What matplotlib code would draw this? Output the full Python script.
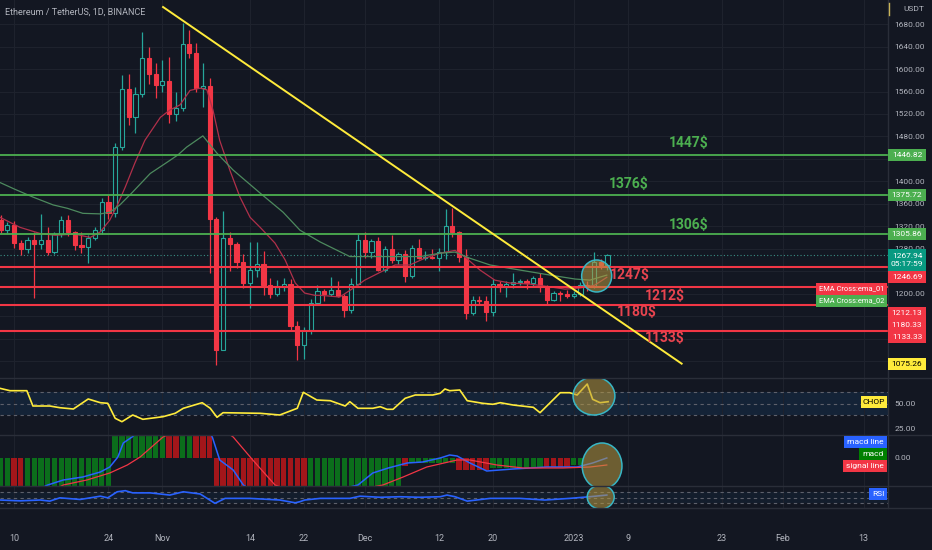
import numpy as np
import matplotlib
matplotlib.use("Agg")
import matplotlib.pyplot as plt
from matplotlib.patches import Ellipse, Rectangle
from matplotlib.lines import Line2D

plt.rcParams['font.family'] = ['Roboto', 'DejaVu Sans']

W, H = 932, 550
BG = '#131722'
GRID = '#1e222d'
TXT = '#b2b5be'
UP = '#26a69a'
DN = '#f23645'

# daily candles, day 0 = 10 Oct 2022 (last one = 6 Jan 2023)
days = list(range(-2, 89))
opens = [1332, 1314, 1322, 1291, 1280, 1296, 1289, 1296, 1274, 1306, 1331, 1310, 1286, 1283, 1299, 1314,
         1364, 1344, 1461, 1565, 1515, 1556, 1620, 1592, 1572, 1578, 1520, 1530, 1645, 1628, 1567,
         1569, 1333, 1100, 1299, 1288, 1256, 1219, 1242, 1252, 1216, 1200, 1212, 1218, 1142, 1108,
         1136, 1184, 1204, 1199, 1206, 1195, 1170, 1217, 1296, 1275, 1293, 1242, 1279, 1259, 1270,
         1232, 1281, 1264, 1266, 1263, 1275, 1320, 1309, 1266, 1166, 1188, 1186, 1167, 1217, 1212,
         1218, 1220, 1222, 1219, 1227, 1212, 1189, 1201, 1199, 1196, 1200, 1215, 1214, 1257, 1251]
highs = [1340, 1327, 1330, 1295, 1300, 1310, 1342, 1318, 1310, 1338, 1340, 1312, 1310, 1304, 1318, 1370,
         1375, 1468, 1590, 1592, 1568, 1666, 1639, 1610, 1616, 1621, 1560, 1682, 1670, 1646, 1610,
         1584, 1336, 1348, 1310, 1292, 1270, 1292, 1292, 1276, 1228, 1225, 1228, 1226, 1152, 1140,
         1190, 1215, 1208, 1230, 1222, 1200, 1228, 1306, 1310, 1298, 1300, 1285, 1305, 1275, 1278,
         1286, 1298, 1276, 1280, 1282, 1350, 1352, 1312, 1280, 1195, 1196, 1195, 1226, 1222, 1222,
         1237, 1226, 1226, 1232, 1236, 1216, 1205, 1204, 1206, 1204, 1220, 1222, 1274, 1262, 1270]
lows = [1308, 1308, 1282, 1269, 1273, 1192, 1280, 1268, 1270, 1300, 1303, 1278, 1272, 1255, 1295, 1306,
        1333, 1336, 1455, 1500, 1486, 1550, 1573, 1548, 1560, 1504, 1508, 1526, 1620, 1560, 1532,
        1236, 1073, 1100, 1240, 1245, 1210, 1174, 1230, 1198, 1192, 1195, 1205, 1135, 1081, 1083,
        1128, 1180, 1187, 1195, 1194, 1158, 1165, 1216, 1264, 1264, 1240, 1239, 1254, 1252, 1220,
        1228, 1262, 1260, 1261, 1240, 1262, 1300, 1257, 1155, 1162, 1180, 1151, 1160, 1203, 1194,
        1210, 1216, 1208, 1214, 1203, 1182, 1186, 1187, 1192, 1192, 1195, 1205, 1210, 1244, 1242]
closes = [1314, 1322, 1291, 1280, 1296, 1289, 1296, 1274, 1306, 1331, 1310, 1286, 1283, 1299, 1314, 1364,
          1344, 1461, 1565, 1515, 1556, 1620, 1592, 1572, 1578, 1520, 1530, 1645, 1628, 1567, 1569,
          1333, 1100, 1299, 1288, 1256, 1219, 1242, 1252, 1216, 1200, 1212, 1218, 1142, 1108, 1136,
          1184, 1204, 1199, 1206, 1195, 1170, 1217, 1296, 1275, 1293, 1242, 1279, 1259, 1270, 1232,
          1281, 1264, 1266, 1263, 1275, 1320, 1309, 1266, 1166, 1188, 1186, 1167, 1217, 1212, 1218,
          1220, 1222, 1219, 1227, 1212, 1189, 1201, 1199, 1196, 1200, 1215, 1214, 1257, 1251, 1268]

ema_fast_days = [-2.1, 0.9, 3.9, 6.1, 9.0, 11.3, 12.8, 14.2, 15.3, 16.5, 17.9, 19.4, 21.7, 23.1, 24.6,
                 26.1, 27.6, 28.6, 29.5, 30.5, 32.0, 33.5, 35.0, 36.5, 38.7, 40.2, 41.7, 43.1, 44.6,
                 45.4, 48.3, 50.6, 52.0, 54.3, 56.5, 58.7, 60.9, 63.2, 65.4, 66.9, 69.1, 71.3, 73.5,
                 76.5, 79.5, 81.7, 83.9, 86.1, 87.9]
ema_fast = [1336, 1318, 1307, 1304, 1306, 1300, 1310, 1331, 1357, 1390, 1432, 1473, 1514, 1527, 1536,
            1562, 1566, 1563, 1527, 1473, 1420, 1372, 1336, 1318, 1290, 1260, 1219, 1201, 1197,
            1197, 1194, 1212, 1224, 1238, 1251, 1251, 1263, 1272, 1277, 1265, 1242, 1224, 1219,
            1217, 1212, 1208, 1210, 1215, 1229]
ema_slow_days = [-2.1, 0.1, 2.8, 5.8, 7.9, 10.2, 12.8, 14.2, 15.7, 17.6, 20.2, 22.7, 24.3, 25.6, 28.0,
                 30.1, 32.5, 36.5, 39.9, 42.4, 45.4, 49.8, 54.3, 60.2, 63.2, 65.4, 67.6, 70.6, 75.0,
                 79.5, 83.2, 85.4, 87.9]
ema_slow = [1398, 1386, 1372, 1358, 1352, 1343, 1342, 1345, 1358, 1381, 1414, 1434, 1447, 1461, 1481,
            1450, 1420, 1379, 1345, 1313, 1292, 1266, 1266, 1266, 1272, 1274, 1263, 1251, 1242,
            1233, 1226, 1224, 1233]

res_levels = [1446.82, 1375.72, 1305.86]
res_names = ['1447$', '1376$', '1306$']
sup_levels = [1246.69, 1212.13, 1180.33, 1133.33]
sup_names = ['1247$', '1212$', '1180$', '1133$']
last_price = 1267.94
countdown = '05:17:59'
trend_days = [22.1, 99.0]
trend_prices = [1710.5, 1075.26]

# price scale labels that are not hidden behind a tag
price_ticks = [1680, 1640, 1600, 1560, 1520, 1480, 1400, 1360, 1320, 1280, 1200]
grid_prices = [1080, 1120, 1160, 1200, 1240, 1280, 1320, 1360, 1400, 1440, 1480, 1520, 1560, 1600, 1640, 1680]

chop_days = [-2.1, -0.6, 1.9, 2.8, 5.3, 6.8, 8.8, 11.0, 12.8, 13.9, 15.0, 16.0, 17.6, 19.1, 22.1,
             23.9, 25.1, 27.9, 29.1, 30.1, 31.0, 36.5, 39.4, 42.0, 42.9, 44.9, 46.9, 49.1, 49.8,
             51.0, 53.2, 54.3, 55.3, 56.2, 58.0, 59.5, 62.1, 63.2, 63.9, 64.6, 66.1, 67.2, 69.5,
             71.0, 72.1, 74.0, 77.0, 78.0, 81.0, 82.4, 83.5, 85.0, 85.8, 86.9, 88.1]
chop_vals = [65.2, 62.8, 62.8, 47.5, 47.5, 45.8, 44.5, 54.5, 50.8, 50.2, 35.2, 31.8, 38.5, 34.2, 36.8,
             40.2, 45.2, 50.8, 45.2, 36.2, 40.8, 40.2, 38.5, 45.2, 61.2, 53.5, 52.8, 47.5, 51.8,
             45.2, 45.2, 46.8, 44.2, 44.2, 55.2, 58.5, 58.5, 60.2, 64.5, 62.8, 63.5, 52.8, 50.2,
             49.2, 50.8, 48.5, 46.2, 40.8, 60.8, 60.8, 58.5, 69.5, 54.2, 50.8, 51.8]

# macd histogram, days -2 .. 84
macd_hist = [-40, -40, -40, -40, -40, -40, -40, -40, -40, -40, -40, -40, -40, -40, -40, -40, -40,
             30, 30, 30, 30, 30, 30, 30, 30, 30, 30, 30, 30, 30, 30, 30,
             -40, -40, -40, -40, -40, -40, -40, -40, -40, -40, -40, -40, -40, -40,
             -40, -40, -40, -40, -40, -40, -40, -40, -40, -40, -40, -40, -40, -40,
             -8, -5, -5, -5, -5, -5, -5, -5, -12, -12, -12, -12, -12,
             -10, -10, -10, -10, -10, -10, -10, -10, -9, -9, -9, -9, -7, -7]
macd_cols = "GGRRGGGGGGGGGGGGG GGGGGGGGRRGGRRR RRRRRRRRRRRRRR GGGGGGGGGGGGGG RGGGGGGGRRRRR GGGGGGGGRRRRGG"
macd_days = [-2, 4, 5.0, 7.3, 10.2, 12.8, 14.2, 15.4, 16.2, 17.5, 20, 25, 28, 29.4, 30.5, 32.5, 34.0,
             38, 44, 48, 51.0, 53.2, 55.5, 58.3, 60.6, 63.2, 64.6, 65.7, 67.6, 70.1, 74.0, 79.0,
             83.5, 85.8, 87.9]
macd_vals = [-40, -30, -27, -22, -19, -14, -9, 1, 15, 21, 35, 45, 35, 21, -2, -12, -27,
             -45, -40, -32, -27, -15, -10, -5, -4, 0, 3, 2, -5, -13, -11, -9,
             -9, -5, 0]
sig_days = [-2, 5, 7.3, 10.8, 14.2, 16.8, 18.7, 22.1, 25, 28, 31, 32.5, 35.4, 38.7, 44, 50, 54.7,
            57.7, 61.2, 65.7, 67.6, 71.6, 75.5, 81.4, 85.4, 87.9]
sig_vals = [-50, -35, -27, -22, -15, -7, 1, 21, 30, 33, 28, 21, -2, -27, -40, -33, -27,
            -19, -9, -2, -2, -7, -10, -10, -9, -7]

rsi_days = [-2.1, 0.9, 3.9, 5.3, 6.8, 9.8, 12.8, 13.9, 15.3, 16.5, 17.6, 20.2, 23.1, 25.1, 27.6,
            29.8, 31.3, 35.0, 39.4, 41.7, 42.4, 43.1, 45.4, 49.8, 51.3, 54.3, 57.2, 60.2, 63.2,
            64.2, 65.4, 67.2, 70.6, 75.0, 78.7, 82.4, 85.4, 87.9]
rsi_vals = [41, 38, 41, 37, 49, 43, 55, 49, 71, 75, 67, 67, 59, 71, 63,
            29, 47, 47, 41, 31, 35, 41, 47, 47, 55, 51, 53, 51, 53,
            59, 53, 37, 47, 47, 41, 47, 53, 59]

date_ticks = [0, 14, 22, 35, 43, 52, 63, 71, 83, 91, 105, 114, 126]
date_labels = ['10', '24', 'Nov', '14', '22', 'Dec', '12', '20', '2023', '9', '23', 'Feb', '13']


def rect(x0, y0, x1, y1):
    # pixel box (from top-left) -> figure fraction
    return [x0 / W, 1 - y1 / H, (x1 - x0) / W, (y1 - y0) / H]


fig = plt.figure(figsize=(W / 100, H / 100), dpi=100, facecolor=BG)
ax = fig.add_axes(rect(0, 0, 888, 378))
ax_chop = fig.add_axes(rect(0, 378, 888, 435))
ax_macd = fig.add_axes(rect(0, 435, 888, 486))
ax_rsi = fig.add_axes(rect(0, 486, 888, 508))

for a in (ax, ax_chop, ax_macd, ax_rsi):
    a.set_facecolor(BG)
    for s in a.spines.values():
        s.set_visible(False)
    a.set_xlim(-2.08, 129.6)
    a.set_xticks(date_ticks)
    a.set_xticklabels([])
    a.yaxis.tick_right()
    a.tick_params(length=0, colors=TXT, labelsize=6, pad=4.5)
    a.grid(axis='x', color=GRID, lw=0.8)

# ---- price panel ----
ax.set_ylim(1049.7, 1723)
ax.set_yticks(price_ticks)
ax.set_yticklabels(['%.2f' % t for t in price_ticks])
for gp in grid_prices:
    ax.axhline(gp, color=GRID, lw=0.8, zorder=0.5)

o = np.array(opens, float)
hh = np.array(highs, float)
ll = np.array(lows, float)
c = np.array(closes, float)
up = c >= o
cols = np.where(up, UP, DN)
ax.vlines(days, ll, hh, colors=cols, lw=0.9, zorder=2)
ax.bar(days, np.maximum(np.abs(c - o), 1.5), bottom=np.minimum(o, c), width=0.62,
       color=np.where(up, BG, DN), edgecolor=cols, linewidth=0.8, zorder=3)

ax.plot(ema_fast_days, ema_fast, color='#b0304a', lw=0.9, zorder=3.5)
ax.plot(ema_slow_days, ema_slow, color='#4d8a5e', lw=0.9, zorder=3.5)

ax.axhline(last_price, color='#3b8f84', lw=0.8, ls=(0, (1, 2)), zorder=1.9)
for lv in res_levels:
    ax.axhline(lv, color='#4caf50', lw=1.3, zorder=4)
for lv in sup_levels:
    ax.axhline(lv, color=DN, lw=1.5, zorder=4)

ax.plot(trend_days, trend_prices, color='#ffeb3b', lw=1.4, zorder=5)

# level captions
for name, (x, y) in zip(res_names, [(100.1, 1468.3), (91.2, 1395.2), (100.1, 1322.2)]):
    ax.text(x, y, name, color='#4caf50', fontsize=10, fontweight='bold', ha='center', va='center', zorder=5)
for name, (x, y) in zip(sup_names, [(91.3, 1233.1), (96.5, 1195.7), (92.4, 1167.2), (96.5, 1120.9)]):
    ax.text(x, y, name, color='#e8444f', fontsize=10, fontweight='bold', ha='center', va='center', zorder=5)

circ_fc = (0.72, 0.6, 0.25, 0.55)
circ_ec = '#38b6c5'
ax.add_patch(Ellipse((86.4, 1231.4), 4.45, 57, fc=circ_fc, ec=circ_ec, lw=1.1, zorder=6))

# ---- CHOP ----
ax_chop.set_ylim(18.5, 75.5)
ax_chop.set_yticks([25, 50])
ax_chop.set_yticklabels(['25.00', '50.00'])
ax_chop.fill_between([-2.08, 129.6], 38.2, 61.8, color='#2196f3', alpha=0.1, lw=0)
for lv in (61.8, 50, 38.2):
    ax_chop.axhline(lv, color='#5d606b', lw=0.8, ls=(0, (3, 3)))
ax_chop.plot(chop_days, chop_vals, color='#ffeb3b', lw=1.2, zorder=3)
ax_chop.add_patch(Ellipse((86.0, 57.5), 6.2, 38, fc=circ_fc, ec=circ_ec, lw=1.1, zorder=6))

# ---- MACD ----
ax_macd.set_ylim(-28, 23)
ax_macd.set_yticks([0])
ax_macd.set_yticklabels(['0.00'])
hcols = ['#0b6e1b' if ch == 'G' else '#a3161a' for ch in macd_cols.replace(' ', '')]
ax_macd.bar(days[:len(macd_hist)], macd_hist, width=0.8, color=hcols, lw=0, zorder=2)
ax_macd.plot(macd_days, macd_vals, color='#2962ff', lw=1.1, zorder=3)
ax_macd.plot(sig_days, sig_vals, color=DN, lw=0.9, zorder=3)
ax_macd.add_patch(Ellipse((87.2, -8), 5.9, 46, fc=circ_fc, ec=circ_ec, lw=1.1, zorder=6))

# ---- RSI ----
ax_rsi.set_ylim(12, 92)
ax_rsi.set_yticks([])
ax_rsi.fill_between([-2.08, 129.6], 30, 70, color='#2196f3', alpha=0.05, lw=0)
for lv in (70, 50, 30):
    ax_rsi.axhline(lv, color='#5d606b', lw=0.8, ls=(0, (3, 3)))
ax_rsi.plot(rsi_days, rsi_vals, color='#2962ff', lw=1.2, zorder=3)
ax_rsi.add_patch(Ellipse((87.0, 51.8), 4.0, 87, fc=circ_fc, ec=circ_ec, lw=1.1, zorder=6))
ax_rsi.set_xticklabels(date_labels)
ax_rsi.tick_params(axis='x', colors=TXT, labelsize=6.5, pad=19)

# separators
for yp in (378, 435, 486, 508):
    fig.add_artist(Line2D([0, 1], [1 - yp / H] * 2, color='#2a2e39', lw=1))
fig.add_artist(Line2D([888 / W] * 2, [1 - 508 / H, 1], color='#2a2e39', lw=1))
fig.add_artist(Line2D([889 / W] * 2, [1 - 3 / H, 1 - 15 / H], color='#c9b458', lw=1))

fig.text(5 / W, 1 - 12 / H, 'Ethereum / TetherUS, 1D, BINANCE', color=TXT, fontsize=6.5, va='center')
fig.text(903 / W, 1 - 9 / H, 'USDT', color=TXT, fontsize=6, va='center')


def tag(y_px, text, fc, tc='white', x0=888, x1=926, h=12, size=6):
    fig.add_artist(Rectangle((x0 / W, 1 - (y_px + h / 2) / H), (x1 - x0) / W, h / H,
                             transform=fig.transFigure, fc=fc, ec='none', zorder=5))
    fig.text((x0 + x1) / 2 / W, 1 - y_px / H, text, ha='center', va='center',
             color=tc, fontsize=size, zorder=6, linespacing=1.3)


def price_px(p):
    return H - ax.transData.transform((0, p))[1]


for lv in res_levels:
    tag(price_px(lv), '%.2f' % lv, '#4caf50')
tag(price_px(last_price) + 4.5, '%.2f\n%s' % (last_price, countdown), '#089981', h=22)
for lv, dy in zip(sup_levels, [9.6, 26, 20, 6]):
    tag(price_px(lv) + dy, '%.2f' % lv, DN)
tag(price_px(trend_prices[1]), '%.2f' % trend_prices[1], '#ffeb3b', tc='black')

tag(289, 'EMA Cross:ema_01', DN, x0=816, x1=887, size=5.4)
tag(301, 'EMA Cross:ema_02', '#4caf50', x0=816, x1=887, size=5.4)
tag(402, 'CHOP', '#ffeb3b', tc='black', x0=861, x1=887)
tag(442, 'macd line', '#2962ff', x0=844, x1=887)
tag(454, 'macd', '#008000', x0=859, x1=887)
tag(466, 'signal line', DN, x0=843, x1=887)
tag(494, 'RSI', '#2962ff', x0=869, x1=887)

fig.savefig('out.png', dpi=100, facecolor=BG)
